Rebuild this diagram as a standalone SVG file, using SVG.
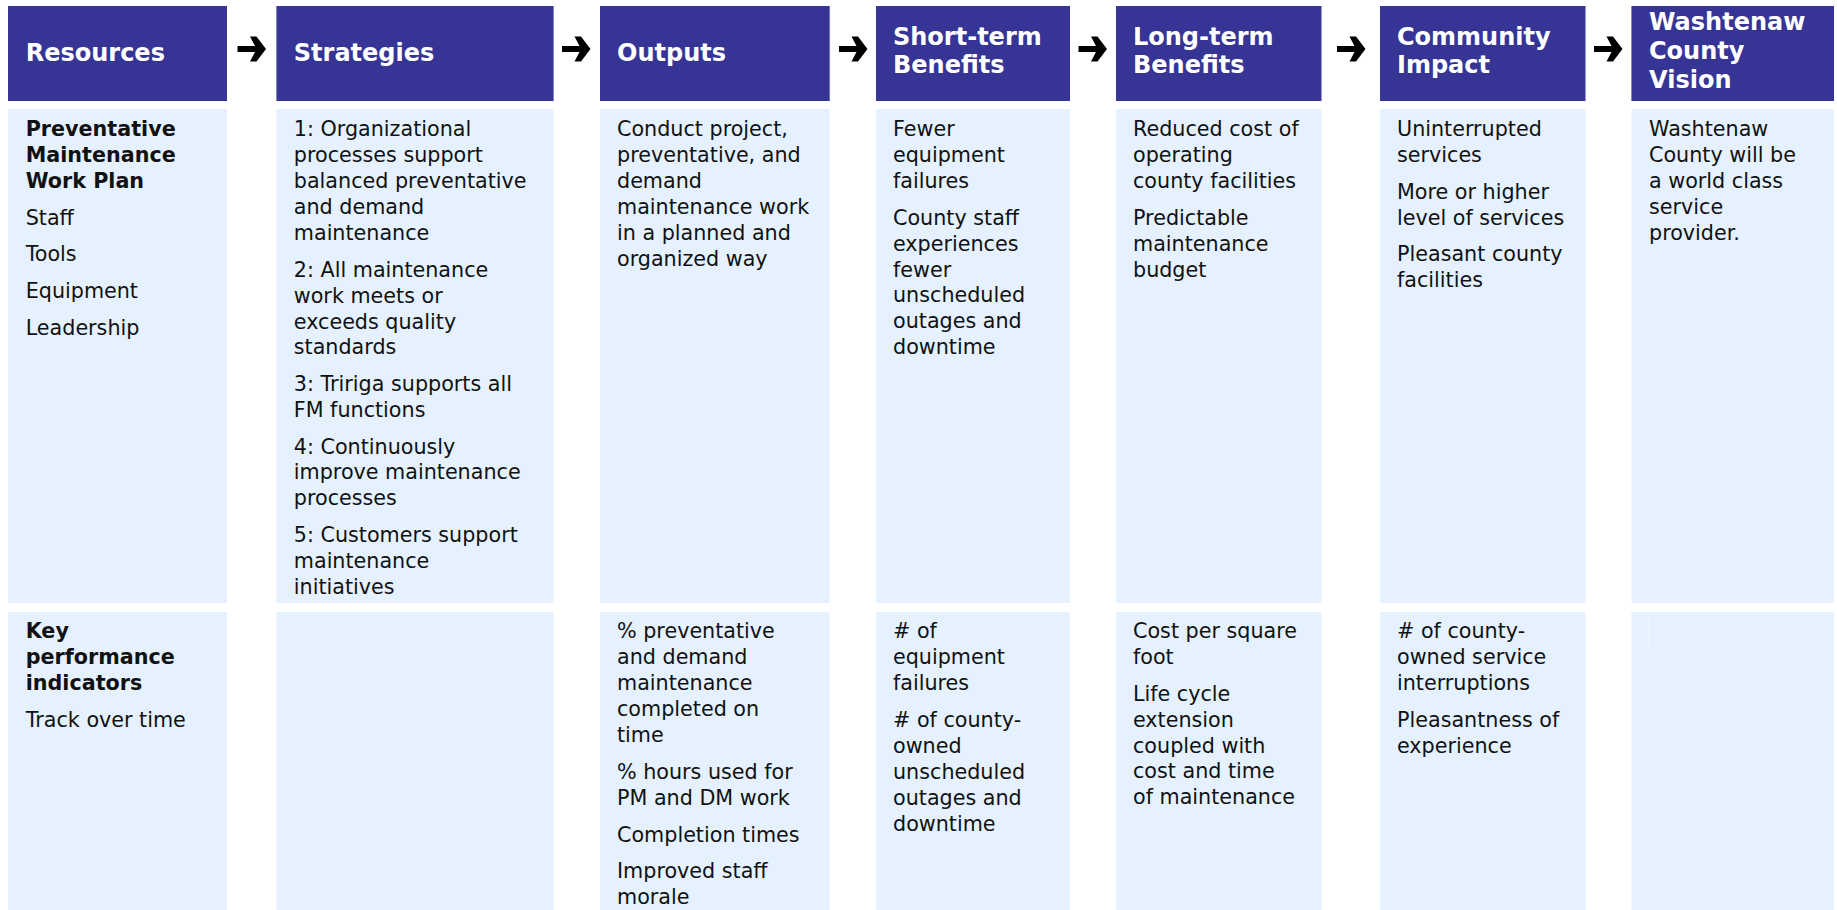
<svg xmlns="http://www.w3.org/2000/svg" xmlns:xlink="http://www.w3.org/1999/xlink" width="1837" height="910" viewBox="0 0 1837 910">
  <style>
    .hdr { fill: #363596; }
    .cell { fill: #E5F1FE; }
    .ht { font-family: "DejaVu Sans", Verdana, sans-serif; font-size: 24px; font-weight: bold; fill: #FFFFFF; }
    .bt { font-family: "DejaVu Sans", Verdana, sans-serif; font-size: 20.7px; fill: #111111; }
    .bb { font-weight: bold; }
    .seam { stroke: #EEF6FF; stroke-width: 1; fill: none; }
    .arrow { fill: #000000; }
  </style>
  <defs>
    <!-- bold right arrow placed between the column headers -->
    <path id="arr" class="arrow" d="M0,-3 H17.5 L12.5,-12.5 H19 L28.5,0 L19,12.5 H12.5 L17.5,3 H0 Z"/>
  </defs>
  <rect width="1837" height="910" fill="#FFFFFF"/>

  <!-- Resources -->
  <g id="col-resources">
    <rect class="hdr" x="8" y="6" width="219" height="95"/>
    <text class="ht" x="25.7" y="60.7">Resources</text>
    <rect class="cell" x="8" y="109" width="219" height="494"/>
    <text class="bt">
      <tspan class="bb" x="25.7" y="136">Preventative</tspan>
      <tspan class="bb" x="25.7" y="162">Maintenance</tspan>
      <tspan class="bb" x="25.7" y="188">Work Plan</tspan>
      <tspan x="25.7" y="224.7">Staff</tspan>
      <tspan x="25.7" y="261.3">Tools</tspan>
      <tspan x="25.7" y="298">Equipment</tspan>
      <tspan x="25.7" y="334.6">Leadership</tspan>
    </text>
    <rect class="cell" x="8" y="612" width="219" height="298"/>
    <text class="bt">
      <tspan class="bb" x="25.7" y="638.3">Key</tspan>
      <tspan class="bb" x="25.7" y="664.3">performance</tspan>
      <tspan class="bb" x="25.7" y="690.3">indicators</tspan>
      <tspan x="25.7" y="727">Track over time</tspan>
    </text>
  </g>

  <!-- Strategies -->
  <g id="col-strategies">
    <rect class="hdr" x="276.4" y="6" width="277.2" height="95"/>
    <text class="ht" x="293.8" y="60.7">Strategies</text>
    <rect class="cell" x="276.4" y="109" width="277.2" height="494"/>
    <text class="bt">
      <tspan x="293.8" y="136">1: Organizational</tspan>
      <tspan x="293.8" y="162">processes support</tspan>
      <tspan x="293.8" y="188">balanced preventative</tspan>
      <tspan x="293.8" y="214">and demand</tspan>
      <tspan x="293.8" y="240">maintenance</tspan>
      <tspan x="293.8" y="276.7">2: All maintenance</tspan>
      <tspan x="293.8" y="302.6">work meets or</tspan>
      <tspan x="293.8" y="328.5">exceeds quality</tspan>
      <tspan x="293.8" y="354.4">standards</tspan>
      <tspan x="293.8" y="391">3: Tririga supports all</tspan>
      <tspan x="293.8" y="417">FM functions</tspan>
      <tspan x="293.8" y="453.5">4: Continuously</tspan>
      <tspan x="293.8" y="479.4">improve maintenance</tspan>
      <tspan x="293.8" y="505.3">processes</tspan>
      <tspan x="293.8" y="542">5: Customers support</tspan>
      <tspan x="293.8" y="568">maintenance</tspan>
      <tspan x="293.8" y="594">initiatives</tspan>
    </text>
    <rect class="cell" x="276.4" y="612" width="277.2" height="298"/>
    <path class="seam" d="M294,648.3 H538 M294,612 V648.3"/>
  </g>

  <!-- Outputs -->
  <g id="col-outputs">
    <rect class="hdr" x="600" y="6" width="229.7" height="95"/>
    <text class="ht" x="617" y="60.7">Outputs</text>
    <rect class="cell" x="600" y="109" width="229.7" height="494"/>
    <text class="bt">
      <tspan x="617" y="136">Conduct project,</tspan>
      <tspan x="617" y="162">preventative, and</tspan>
      <tspan x="617" y="188">demand</tspan>
      <tspan x="617" y="214">maintenance work</tspan>
      <tspan x="617" y="240">in a planned and</tspan>
      <tspan x="617" y="266">organized way</tspan>
    </text>
    <rect class="cell" x="600" y="612" width="229.7" height="298"/>
    <text class="bt">
      <tspan x="617" y="638.3">% preventative</tspan>
      <tspan x="617" y="664.3">and demand</tspan>
      <tspan x="617" y="690.3">maintenance</tspan>
      <tspan x="617" y="716.3">completed on</tspan>
      <tspan x="617" y="742.3">time</tspan>
      <tspan x="617" y="779">% hours used for</tspan>
      <tspan x="617" y="805">PM and DM work</tspan>
      <tspan x="617" y="841.5">Completion times</tspan>
      <tspan x="617" y="878">Improved staff</tspan>
      <tspan x="617" y="904">morale</tspan>
    </text>
  </g>

  <!-- Short-term Benefits -->
  <g id="col-short-term">
    <rect class="hdr" x="876" y="6" width="194" height="95"/>
    <text class="ht">
      <tspan x="893" y="45">Short-term</tspan>
      <tspan x="893" y="73.3">Benefits</tspan>
    </text>
    <rect class="cell" x="876" y="109" width="194" height="494"/>
    <text class="bt">
      <tspan x="893" y="136">Fewer</tspan>
      <tspan x="893" y="162">equipment</tspan>
      <tspan x="893" y="188">failures</tspan>
      <tspan x="893" y="224.7">County staff</tspan>
      <tspan x="893" y="250.6">experiences</tspan>
      <tspan x="893" y="276.5">fewer</tspan>
      <tspan x="893" y="302.4">unscheduled</tspan>
      <tspan x="893" y="328.3">outages and</tspan>
      <tspan x="893" y="354.2">downtime</tspan>
    </text>
    <rect class="cell" x="876" y="612" width="194" height="298"/>
    <text class="bt">
      <tspan x="893" y="638.3"># of</tspan>
      <tspan x="893" y="664.3">equipment</tspan>
      <tspan x="893" y="690.3">failures</tspan>
      <tspan x="893" y="727"># of county-</tspan>
      <tspan x="893" y="753">owned</tspan>
      <tspan x="893" y="779">unscheduled</tspan>
      <tspan x="893" y="805">outages and</tspan>
      <tspan x="893" y="831">downtime</tspan>
    </text>
  </g>

  <!-- Long-term Benefits -->
  <g id="col-long-term">
    <rect class="hdr" x="1116" y="6" width="205.5" height="95"/>
    <text class="ht">
      <tspan x="1133" y="45">Long-term</tspan>
      <tspan x="1133" y="73.3">Benefits</tspan>
    </text>
    <rect class="cell" x="1116" y="109" width="205.5" height="494"/>
    <text class="bt">
      <tspan x="1133" y="136">Reduced cost of</tspan>
      <tspan x="1133" y="162">operating</tspan>
      <tspan x="1133" y="188">county facilities</tspan>
      <tspan x="1133" y="224.7">Predictable</tspan>
      <tspan x="1133" y="250.6">maintenance</tspan>
      <tspan x="1133" y="276.5">budget</tspan>
    </text>
    <rect class="cell" x="1116" y="612" width="205.5" height="298"/>
    <text class="bt">
      <tspan x="1133" y="638.3">Cost per square</tspan>
      <tspan x="1133" y="664.3">foot</tspan>
      <tspan x="1133" y="700.7">Life cycle</tspan>
      <tspan x="1133" y="726.6">extension</tspan>
      <tspan x="1133" y="752.5">coupled with</tspan>
      <tspan x="1133" y="778.4">cost and time</tspan>
      <tspan x="1133" y="804.3">of maintenance</tspan>
    </text>
  </g>

  <!-- Community Impact -->
  <g id="col-community">
    <rect class="hdr" x="1380" y="6" width="205.5" height="95"/>
    <text class="ht">
      <tspan x="1397" y="45">Community</tspan>
      <tspan x="1397" y="73.3">Impact</tspan>
    </text>
    <rect class="cell" x="1380" y="109" width="205.5" height="494"/>
    <text class="bt">
      <tspan x="1397" y="136">Uninterrupted</tspan>
      <tspan x="1397" y="162">services</tspan>
      <tspan x="1397" y="198.6">More or higher</tspan>
      <tspan x="1397" y="224.5">level of services</tspan>
      <tspan x="1397" y="261">Pleasant county</tspan>
      <tspan x="1397" y="287">facilities</tspan>
    </text>
    <rect class="cell" x="1380" y="612" width="205.5" height="298"/>
    <text class="bt">
      <tspan x="1397" y="638.3"># of county-</tspan>
      <tspan x="1397" y="664.3">owned service</tspan>
      <tspan x="1397" y="690.3">interruptions</tspan>
      <tspan x="1397" y="727">Pleasantness of</tspan>
      <tspan x="1397" y="753">experience</tspan>
    </text>
  </g>

  <!-- Washtenaw County Vision -->
  <g id="col-vision">
    <rect class="hdr" x="1631.4" y="6" width="202.6" height="95"/>
    <text class="ht">
      <tspan x="1649" y="30">Washtenaw</tspan>
      <tspan x="1649" y="59">County</tspan>
      <tspan x="1649" y="88">Vision</tspan>
    </text>
    <rect class="cell" x="1631.4" y="109" width="202.6" height="494"/>
    <text class="bt">
      <tspan x="1649" y="136">Washtenaw</tspan>
      <tspan x="1649" y="162">County will be</tspan>
      <tspan x="1649" y="188">a world class</tspan>
      <tspan x="1649" y="214">service</tspan>
      <tspan x="1649" y="240">provider.</tspan>
    </text>
    <rect class="cell" x="1631.4" y="612" width="202.6" height="298"/>
    <path class="seam" d="M1649,648.3 H1819 M1649,612 V648.3"/>
  </g>

  <!-- arrows linking the header stages -->
  <g id="connectors">
    <use xlink:href="#arr" href="#arr" x="237.5" y="49"/>
    <use xlink:href="#arr" href="#arr" x="562" y="49"/>
    <use xlink:href="#arr" href="#arr" x="839" y="49"/>
    <use xlink:href="#arr" href="#arr" x="1078.5" y="49"/>
    <use xlink:href="#arr" href="#arr" x="1337" y="49"/>
    <use xlink:href="#arr" href="#arr" x="1594" y="49"/>
  </g>
</svg>
